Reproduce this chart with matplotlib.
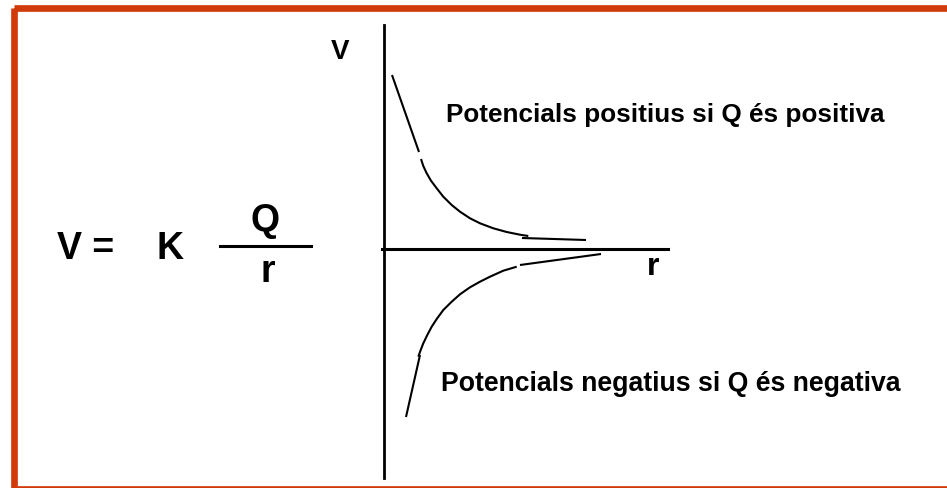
import matplotlib
matplotlib.use("Agg")
import matplotlib.pyplot as plt
from matplotlib.patches import Rectangle

plt.rcParams['font.family'] = ['Liberation Sans', 'DejaVu Sans']

# ---- data (potential V vs distance r; arbitrary units) ----
pos_steep_r = [8, 35]
pos_steep_v = [174, 97]
pos_curve_r = [37, 39.3, 42.7, 47, 52.7, 59.3, 67.7, 76, 86, 96, 109.3, 122.7, 136, 144.3]
pos_curve_v = [90, 83, 75.7, 68.3, 60.7, 52.3, 44, 37.3, 30.7, 25.7, 20.7, 17, 14.3, 13]
pos_tail_r = [138, 202]
pos_tail_v = [11, 9]

neg_steep_r = [22, 36]
neg_steep_v = [-168, -106]
neg_curve_r = [34.3, 36.7, 39.3, 43.3, 47.7, 52.7, 59.3, 67.7, 76, 86, 96, 106, 119.3, 132.7]
neg_curve_v = [-107.7, -101, -94.3, -86, -77.7, -70, -61, -52.7, -45.3, -38.3, -32.7,
               -27.7, -21.7, -17.7]
neg_tail_r = [136, 217]
neg_tail_v = [-16, -5]

axis_r = [-2, 284]
axis_v = [-229, 224]

label_pos = "Potencials positius si Q és positiva"
label_neg = "Potencials negatius si Q és negativa"

W, H = 947, 488
fig = plt.figure(figsize=(W / 100, H / 100), dpi=100)

# background / pixel-space axes for frame and texts
base = fig.add_axes([0, 0, 1, 1])
base.set_xlim(0, W)
base.set_ylim(H, 0)
base.axis('off')

border_col = '#D13A09'
base.add_patch(Rectangle((14, 7.5), 960, 481.5, fill=False, lw=4.8,
                         edgecolor=border_col, joinstyle='miter'))

# chart axes, origin at the crossing of the axes
ox, oy = 384, 249
ax = fig.add_axes([0, 0, 1, 1], facecolor='none')
ax.set_xlim(-ox, W - ox)
ax.set_ylim(-(H - oy), oy)
ax.axis('off')

k = dict(color='black', lw=1.5, solid_capstyle='butt', solid_joinstyle='round')
ax.plot([0, 0], axis_v, color='black', lw=2.0)
ax.plot(axis_r, [0, 0], color='black', lw=2.2)

ax.plot(pos_steep_r, pos_steep_v, **k)
ax.plot(pos_curve_r, pos_curve_v, **k)
ax.plot(pos_tail_r, pos_tail_v, **k)
ax.plot(neg_steep_r, neg_steep_v, **k)
ax.plot(neg_curve_r, neg_curve_v, **k)
ax.plot(neg_tail_r, neg_tail_v, **k)

bold = dict(fontweight='bold', color='black')
base.text(340, 52, "V", fontsize=20, ha='center', va='center', **bold)
base.text(653, 267, "r", fontsize=23, ha='center', va='center', **bold)
base.text(446, 115, label_pos, fontsize=18.8, ha='left', va='center', **bold)
base.text(441, 384, label_neg, fontsize=19.2, ha='left', va='center', **bold)

# formula V = K Q / r
base.text(57, 249, "V =", fontsize=27, ha='left', va='center', **bold)
base.text(170, 249, "K", fontsize=27, ha='center', va='center', **bold)
base.text(265, 221, "Q", fontsize=27, ha='center', va='center', **bold)
base.plot([220, 311], [246, 246], color='black', lw=2.2)
base.text(268, 272, "r", fontsize=27, ha='center', va='center', **bold)

fig.savefig("out.png", dpi=100)
